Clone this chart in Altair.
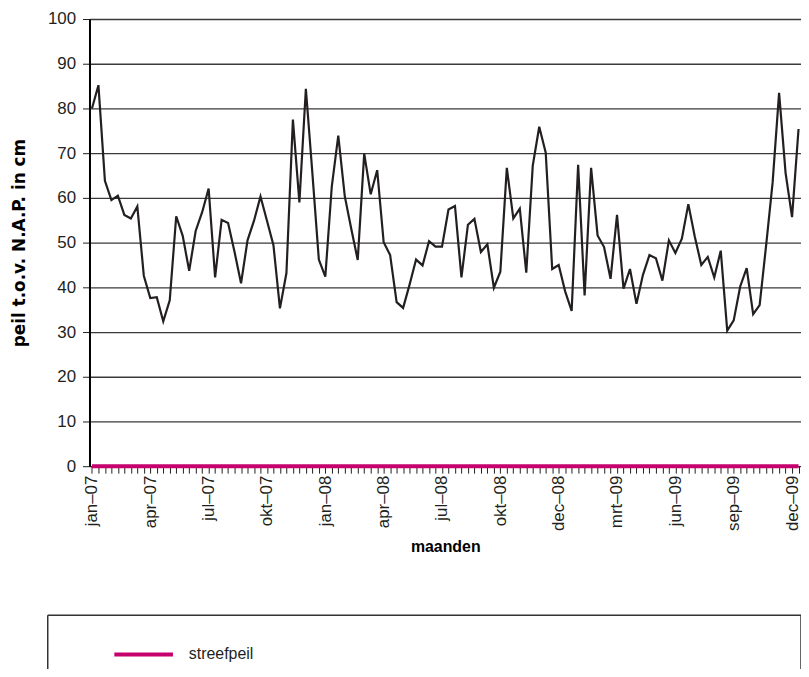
import altair as alt
import pandas as pd

# gemeten peil (cm t.o.v. N.A.P.), decadewaarden jan-07 t/m dec-09
peil = [80.0, 85.2, 63.8, 59.5, 60.5, 56.2, 55.4, 58.1, 42.6, 37.6,
        37.8, 32.4, 37.1, 55.9, 51.5, 43.7, 52.6, 56.8, 62.1, 42.2,
        55.1, 54.4, 47.9, 40.9, 50.5, 54.9, 60.3, 54.9, 49.4, 35.3,
        43.2, 77.5, 59.0, 84.4, 65.6, 46.2, 42.4, 62.6, 73.9, 60.4,
        53.1, 46.1, 69.9, 60.8, 66.2, 50.1, 47.2, 36.7, 35.4, 40.6,
        46.2, 44.9, 50.3, 49.1, 49.1, 57.4, 58.2, 42.2, 54.0, 55.3,
        47.9, 49.6, 39.9, 43.5, 66.7, 55.4, 57.6, 43.3, 67.2, 75.9,
        70.1, 44.1, 45.0, 39.1, 34.7, 67.4, 38.2, 66.7, 51.6, 49.0,
        41.9, 56.2, 39.7, 44.1, 36.3, 42.8, 47.2, 46.5, 41.5, 50.5,
        47.7, 50.9, 58.6, 51.3, 45.0, 46.8, 42.2, 48.2, 30.3, 32.6,
        40.2, 44.3, 34.0, 36.0, 49.4, 63.4, 83.5, 65.6, 55.7, 75.4]
streefpeil = [0.0] * len(peil)
maand_labels = ["jan–07", "apr–07", "jul–07", "okt–07", "jan–08", "apr–08",
                "jul–08", "okt–08", "dec–08", "mrt–09", "jun–09", "sep–09", "dec–09"]
label_stap = 9

n = len(peil)
idx = list(range(n))
df_peil = pd.DataFrame({"i": idx, "peil": peil})
df_streef = pd.DataFrame({"i": idx, "peil": streefpeil, "serie": ["streefpeil"] * n})

FONT = "Liberation Sans"
PINK = "#c6006c"
INK = "#231f20"

PLOT_H = 450
TOP = 9

label_js = "[" + ",".join("'" + s + "'" for s in maand_labels) + "]"
label_expr = f"datum.value % {label_stap} == 0 ? {label_js}[datum.value / {label_stap}] : ''"

x_axis = alt.Axis(
    values=idx, labelExpr=label_expr, labelAngle=-90, labelOverlap=False,
    labelBound=False, labelFontSize=17, labelFont=FONT, labelColor=INK,
    labelPadding=2, tickSize=7, tickColor=INK, tickWidth=1, domain=False,
    grid=False, title="maanden", titleFont=FONT, titleFontSize=16,
    titleFontWeight="bold", titleColor="#000", titleBaseline="middle",
    titleY=81,
)
y_axis = alt.Axis(
    values=list(range(0, 101, 10)), labelFontSize=17, labelFont=FONT,
    labelColor=INK, labelPadding=7, tickSize=7, tickColor=INK, tickWidth=1,
    domainColor="#000", domainWidth=2, grid=True, gridColor="#3a3a3a",
    gridWidth=1.3, title="peil t.o.v. N.A.P. in cm", titleFont="DejaVu Sans",
    titleFontSize=17, titleFontWeight="bold", titleColor="#000",
    titleX=-70, titleBaseline="middle",
)
x_scale = alt.Scale(domain=[-0.38, n - 1 + 0.38], nice=False, zero=False)
y_scale = alt.Scale(domain=[0, 100], nice=False)

lijn = alt.Chart(df_peil).mark_line(color=INK, strokeWidth=2.2).encode(
    x=alt.X("i:Q", scale=x_scale, axis=x_axis),
    y=alt.Y("peil:Q", scale=y_scale, axis=y_axis),
)

LEG_TOP = 617 - 8 - TOP
streef = alt.Chart(df_streef).mark_line(strokeWidth=4).encode(
    x=alt.X("i:Q", scale=x_scale, axis=x_axis),
    y=alt.Y("peil:Q", scale=y_scale, axis=y_axis),
    color=alt.Color(
        "serie:N",
        scale=alt.Scale(domain=["streefpeil"], range=[PINK]),
        legend=alt.Legend(
            title=None, orient="none", legendX=23, legendY=LEG_TOP + 8, padding=0,
            symbolType="stroke", symbolSize=3481, symbolStrokeWidth=4,
            labelFontSize=16, labelFont=FONT, labelColor=INK, labelOffset=14,
        ),
    ),
)

BOTTOM_PAD = 661 - TOP - PLOT_H
# kader rond de legenda
box = pd.DataFrame({"x": [0]})
kader_top = alt.Chart(box).mark_rule(color="#333", strokeWidth=1.5).encode(
    x=alt.value(-42), x2=alt.value(716), y=alt.value(LEG_TOP))
kader_links = alt.Chart(box).mark_rule(color="#333", strokeWidth=1.5).encode(
    x=alt.value(-42), y=alt.value(LEG_TOP), y2=alt.value(PLOT_H + BOTTOM_PAD + 4))
kader_rechts = alt.Chart(box).mark_rule(color="#333", strokeWidth=1.5).encode(
    x=alt.value(716), y=alt.value(LEG_TOP), y2=alt.value(PLOT_H + BOTTOM_PAD + 4))

chart = alt.layer(lijn, streef, kader_top, kader_links, kader_rechts).properties(
    width=716, height=PLOT_H,
    autosize=alt.AutoSizeParams(type="none"),
    padding={"left": 82, "top": TOP, "right": 0, "bottom": BOTTOM_PAD},
).configure_view(stroke="#000", strokeWidth=2).configure(background="white")

chart.save("out.html", embed_options={"renderer": "svg", "actions": False})
